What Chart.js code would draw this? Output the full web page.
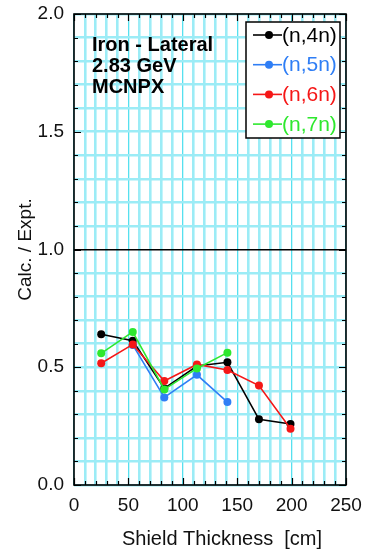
<!DOCTYPE html>
<html>
<head>
<meta charset="utf-8">
<script src="https://cdn.jsdelivr.net/npm/chart.js@4.4.1/dist/chart.umd.min.js"></script>
<style>
  html, body { margin: 0; padding: 0; background: #fff; }
  canvas { display: block; }
</style>
</head>
<body>
<canvas id="c" width="366" height="553"></canvas>
<script>
// Shield thickness (cm) at each measurement position
const thickness = [25, 54, 83, 113, 141, 170, 199];
// Calc./Expt. ratios per reaction
const seriesLabels = ['(n,4n)', '(n,5n)', '(n,6n)', '(n,7n)'];
const n4n = [0.640, 0.613, 0.410, 0.505, 0.521, 0.279, 0.259];
const n5n = [null, 0.595, 0.372, 0.468, 0.352, null, null];
const n6n = [0.517, 0.597, 0.442, 0.512, 0.488, 0.422, 0.239];
const n7n = [0.559, 0.650, 0.406, 0.495, 0.562, null, null];
const seriesColors = ['#000000', '#2f7ef5', '#f51717', '#2ee82e'];
const annotationLines = ['Iron - Lateral', '2.83 GeV', 'MCNPX'];
const xTitle = 'Shield Thickness  [cm]';
const yTitle = 'Calc. / Expt.';

const FONT = '"Liberation Sans", Arial, Helvetica, sans-serif';
const GRID_LIGHT = '#9cecf6';
const GRID_50 = '#56e0ef';

function toPoints(vals) {
  return thickness.map((x, i) => ({ x: x, y: vals[i] }));
}
const seriesValues = [n4n, n5n, n6n, n7n];
const datasets = seriesValues.map((vals, i) => ({
  label: seriesLabels[i],
  data: toPoints(vals),
  borderColor: seriesColors[i],
  backgroundColor: seriesColors[i],
  borderWidth: 1.6,
  pointRadius: 4,
  pointBorderWidth: 0,
  pointHoverRadius: 4,
  spanGaps: false,
  tension: 0,
  order: seriesValues.length - i
}));

const frameAndDecor = {
  id: 'frameAndDecor',
  afterDatasetsDraw(chart) {
    const ctx = chart.ctx;
    const a = chart.chartArea;
    const xs = chart.scales.x, ys = chart.scales.y;
    ctx.save();
    // inward tick marks on all four sides
    ctx.strokeStyle = '#000';
    ctx.lineWidth = 1.2;
    ctx.beginPath();
    xs.ticks.forEach(t => {
      const px = Math.round(xs.getPixelForValue(t.value)) + 0.5;
      const len = (Math.round(t.value) % 50 === 0) ? 7 : 4;
      ctx.moveTo(px, a.bottom); ctx.lineTo(px, a.bottom - len);
      ctx.moveTo(px, a.top); ctx.lineTo(px, a.top + len);
    });
    ys.ticks.forEach(t => {
      const py = Math.round(ys.getPixelForValue(t.value)) + 0.5;
      const len = (Math.round(t.value * 10) % 5 === 0) ? 7 : 4;
      ctx.moveTo(a.left, py); ctx.lineTo(a.left + len, py);
      ctx.moveTo(a.right, py); ctx.lineTo(a.right - len, py);
    });
    ctx.stroke();
    // plot frame
    ctx.lineWidth = 1.6;
    ctx.strokeRect(a.left, a.top, a.right - a.left, a.bottom - a.top);

    // annotation text
    ctx.fillStyle = '#000';
    ctx.font = 'bold 20px ' + FONT;
    ctx.textBaseline = 'alphabetic';
    ctx.textAlign = 'left';
    annotationLines.forEach((s, i) => ctx.fillText(s, a.left + 18, 51 + i * 21));

    // legend box
    const lx = 246, ly = 22, lw = 94, lh = 116;
    ctx.fillStyle = '#fff';
    ctx.fillRect(lx, ly, lw, lh);
    ctx.lineWidth = 1.5;
    ctx.strokeStyle = '#000';
    ctx.strokeRect(lx, ly, lw, lh);
    ctx.font = '21px ' + FONT;
    ctx.textBaseline = 'middle';
    chart.data.datasets.forEach((ds, i) => {
      const cy = ly + 13 + i * 29.7;
      ctx.strokeStyle = ds.borderColor;
      ctx.lineWidth = 1.6;
      ctx.beginPath();
      ctx.moveTo(lx + 7, cy); ctx.lineTo(lx + 36, cy);
      ctx.stroke();
      ctx.fillStyle = ds.borderColor;
      ctx.beginPath();
      ctx.arc(lx + 23, cy, 4, 0, Math.PI * 2);
      ctx.fill();
      ctx.fillText(ds.label, lx + 36, cy + 1);
    });

    // x-axis title
    ctx.fillStyle = '#111';
    ctx.font = '20px ' + FONT;
    ctx.textAlign = 'center';
    ctx.textBaseline = 'alphabetic';
    ctx.fillText(xTitle, 222, 545);
    ctx.restore();
  }
};

new Chart(document.getElementById('c'), {
  type: 'line',
  data: { datasets: datasets },
  options: {
    responsive: false,
    animation: false,
    devicePixelRatio: 1,
    layout: { padding: { top: 14, right: 20, left: 0, bottom: 0 } },
    plugins: { legend: { display: false }, tooltip: { enabled: false } },
    scales: {
      x: {
        type: 'linear',
        min: 0, max: 250,
        afterFit(scale) { scale.height = 68; },
        border: { display: false },
        grid: {
          drawTicks: false,
          color: c => (Math.round(c.tick.value) % 50 === 0) ? GRID_50 : GRID_LIGHT,
          lineWidth: c => (Math.round(c.tick.value) % 50 === 0) ? 1.3 : 2.6
        },
        ticks: {
          stepSize: 10,
          autoSkip: false,
          maxRotation: 0,
          padding: 0,
          color: '#111',
          font: { family: FONT, size: 19, lineHeight: 2.16 },
          callback: v => (Math.round(v) % 50 === 0) ? String(Math.round(v)) : ''
        }
      },
      y: {
        min: 0, max: 2,
        afterFit(scale) { scale.width = 74; },
        border: { display: false },
        grid: {
          drawTicks: false,
          color: c => (Math.round(c.tick.value * 10) === 10) ? '#000' : GRID_LIGHT,
          lineWidth: c => (Math.round(c.tick.value * 10) === 10) ? 1.6 : 2.6
        },
        ticks: {
          stepSize: 0.1,
          autoSkip: false,
          padding: 10,
          color: '#111',
          font: { family: FONT, size: 19, lineHeight: 0.3 },
          callback: v => (Math.round(v * 10) % 5 === 0) ? v.toFixed(1) : ''
        },
        title: {
          display: true,
          text: yTitle,
          color: '#111',
          font: { family: FONT, size: 19 },
          padding: { top: 14, bottom: 0 }
        }
      }
    }
  },
  plugins: [frameAndDecor]
});
</script>
</body>
</html>
